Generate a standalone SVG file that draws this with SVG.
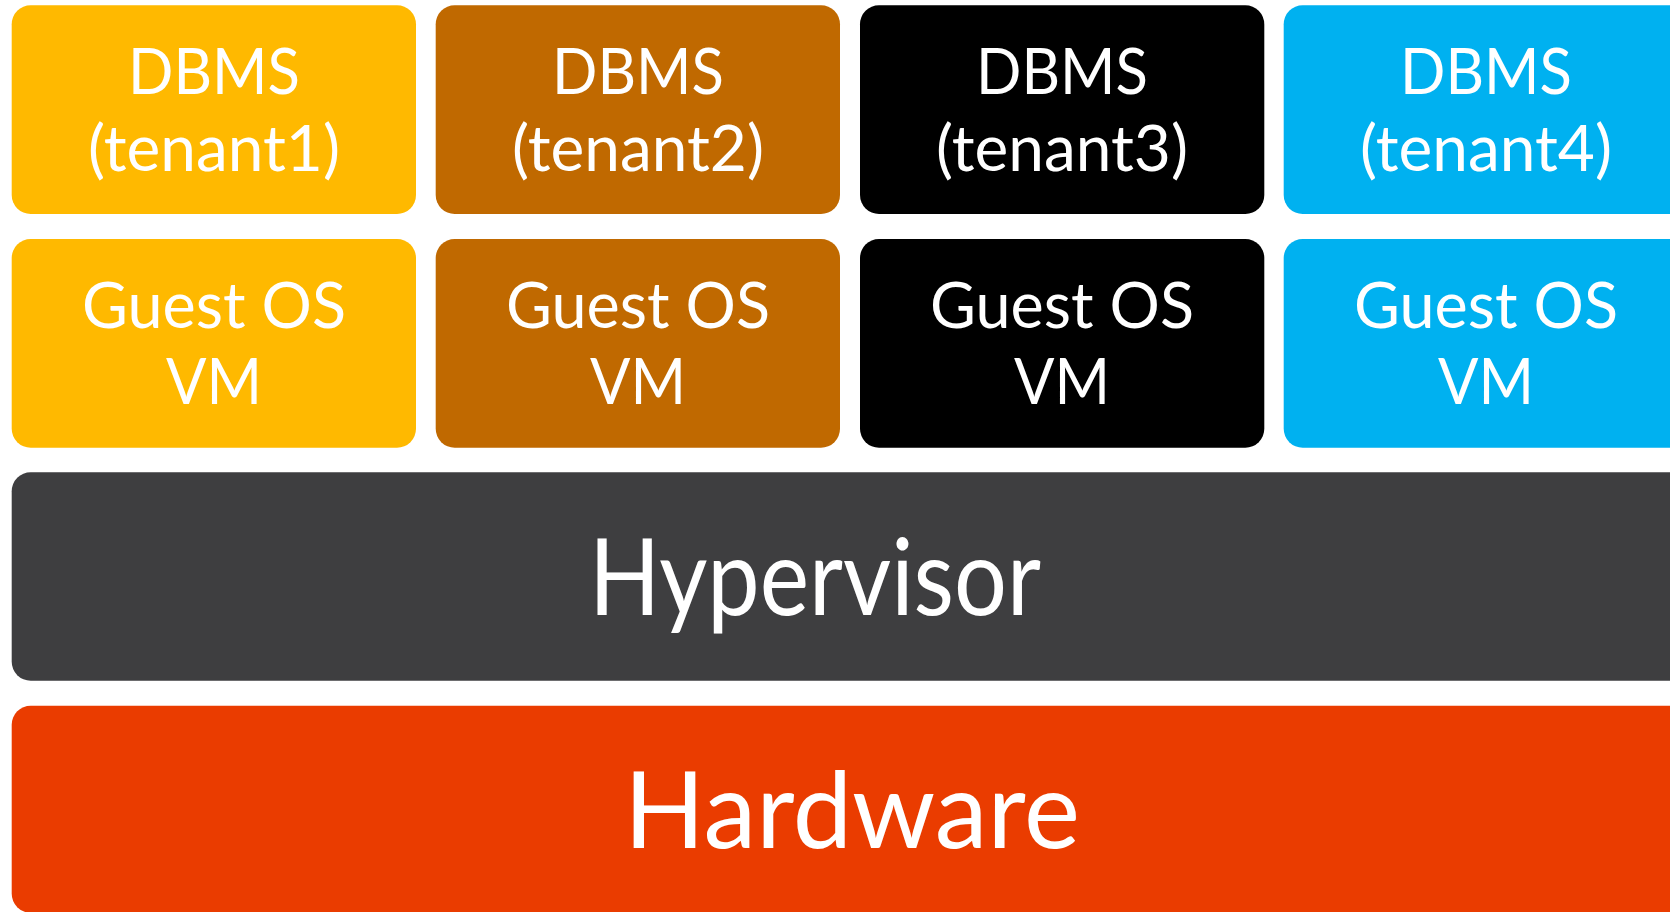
<svg xmlns="http://www.w3.org/2000/svg" width="1670" height="912" viewBox="0 0 1670 912">
<style>
text{font-family:Lato,"Open Sans","Liberation Sans",sans-serif;fill:#fff;text-anchor:middle}
.s{font-size:63px}
.l{font-size:107px}
</style>
<rect width="1670" height="912" fill="#fff"/>
<g id="dbms1"><rect x="11.7" y="5.3" width="404.3" height="208.7" rx="19" fill="#FFB900"/><text class="s" x="214" y="94" textLength="172" lengthAdjust="spacingAndGlyphs">DBMS</text><text class="s" x="214" y="171" textLength="252" lengthAdjust="spacingAndGlyphs">(tenant1)</text></g>
<g id="dbms2"><rect x="435.7" y="5.3" width="404.3" height="208.7" rx="19" fill="#C06900"/><text class="s" x="638" y="94" textLength="172" lengthAdjust="spacingAndGlyphs">DBMS</text><text class="s" x="638" y="171" textLength="252" lengthAdjust="spacingAndGlyphs">(tenant2)</text></g>
<g id="dbms3"><rect x="860" y="5.3" width="404.3" height="208.7" rx="19" fill="#000"/><text class="s" x="1062" y="94" textLength="172" lengthAdjust="spacingAndGlyphs">DBMS</text><text class="s" x="1062" y="171" textLength="252" lengthAdjust="spacingAndGlyphs">(tenant3)</text></g>
<g id="dbms4"><rect x="1283.7" y="5.3" width="420" height="208.7" rx="19" fill="#00B1F0"/><text class="s" x="1486" y="94" textLength="172" lengthAdjust="spacingAndGlyphs">DBMS</text><text class="s" x="1486" y="171" textLength="252" lengthAdjust="spacingAndGlyphs">(tenant4)</text></g>
<g id="vm1"><rect x="11.7" y="239" width="404.3" height="208.7" rx="19" fill="#FFB900"/><text class="s" x="214" y="328" textLength="264" lengthAdjust="spacingAndGlyphs">Guest OS</text><text class="s" x="214" y="404" textLength="96" lengthAdjust="spacingAndGlyphs">VM</text></g>
<g id="vm2"><rect x="435.7" y="239" width="404.3" height="208.7" rx="19" fill="#C06900"/><text class="s" x="638" y="328" textLength="264" lengthAdjust="spacingAndGlyphs">Guest OS</text><text class="s" x="638" y="404" textLength="96" lengthAdjust="spacingAndGlyphs">VM</text></g>
<g id="vm3"><rect x="860" y="239" width="404.3" height="208.7" rx="19" fill="#000"/><text class="s" x="1062" y="328" textLength="264" lengthAdjust="spacingAndGlyphs">Guest OS</text><text class="s" x="1062" y="404" textLength="96" lengthAdjust="spacingAndGlyphs">VM</text></g>
<g id="vm4"><rect x="1283.7" y="239" width="420" height="208.7" rx="19" fill="#00B1F0"/><text class="s" x="1486" y="328" textLength="264" lengthAdjust="spacingAndGlyphs">Guest OS</text><text class="s" x="1486" y="404" textLength="96" lengthAdjust="spacingAndGlyphs">VM</text></g>
<g id="hypervisor"><rect x="11.7" y="472.3" width="1700" height="208.5" rx="19" fill="#3E3E40"/><text class="l" x="815" y="615" textLength="452" lengthAdjust="spacingAndGlyphs">Hypervisor</text></g>
<g id="hardware"><rect x="11.7" y="705.7" width="1700" height="207" rx="19" fill="#EA3C00"/><text class="l" x="852" y="848" textLength="456" lengthAdjust="spacingAndGlyphs">Hardware</text></g>
<g id="connectors"/>
</svg>
